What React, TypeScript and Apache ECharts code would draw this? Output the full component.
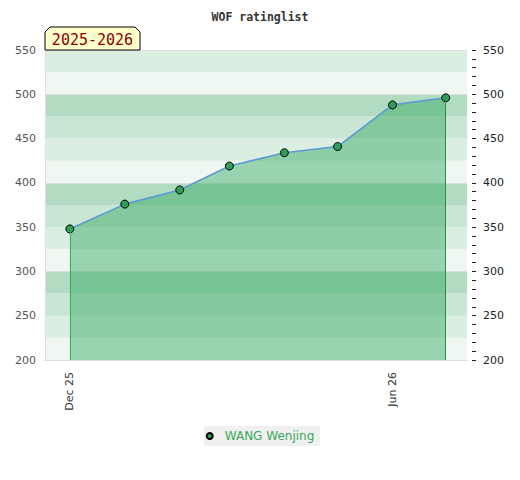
import React, { useEffect, useRef } from "react";
import * as echarts from "echarts";

const months = ["2025-12-01", "2026-01-01", "2026-02-01", "2026-03-01", "2026-04-01", "2026-05-01", "2026-06-01", "2026-07-01"];
const ratings = [348, 376, 392, 419, 434, 441, 488, 496];
const playerName = "WANG Wenjing";
const seasonLabel = "2025-2026";
const titleText = "WOF ratinglist";
const xLabelDates = ["2025-12-01", "2026-06-01"];
const xRange = ["2025-11-17", "2026-07-13"];
const yRange = [200, 550];
const bandColors = ["#eff7f2", "#dbeee2", "#c8e6d3", "#b2dcc1"];

const MONTH_NAMES = ["Jan", "Feb", "Mar", "Apr", "May", "Jun", "Jul", "Aug", "Sep", "Oct", "Nov", "Dec"];

function ts(s: string): number {
  const [y, m, d] = s.split("-").map(Number);
  return new Date(y, m - 1, d).getTime();
}

export default function App() {
  const ref = useRef<HTMLDivElement>(null);

  useEffect(() => {
    document.body.style.margin = "0";
    if (!ref.current) return;
    const chart = echarts.init(ref.current, null, { renderer: "svg" });
    const data = months.map((m, i) => [ts(m), ratings[i]]);
    const first = data[0];
    const last = data[data.length - 1];

    chart.setOption({
      animation: false,
      title: {
        text: titleText,
        left: "center",
        top: 6,
        textStyle: { fontFamily: "DejaVu Sans Mono", fontWeight: "bold", fontSize: 11.5, color: "#333" },
      },
      grid: { left: 45, right: 53, top: 50, bottom: 120 },
      legend: {
        bottom: 34,
        left: "center",
        backgroundColor: "#f0f0f0",
        padding: [4, 6, 4, 2],
        itemWidth: 20,
        itemHeight: 6,
        icon: "circle",
        textStyle: { color: "#3aa85c", fontSize: 12, fontFamily: "DejaVu Sans" },
        data: [playerName],
      },
      xAxis: {
        type: "value",
        min: ts(xRange[0]),
        max: ts(xRange[1]),
        axisLine: { show: true, lineStyle: { color: "#dddddd", width: 1 } },
        axisTick: { show: false },
        splitLine: { show: false },
        axisLabel: {
          customValues: xLabelDates.map(ts),
          rotate: 90,
          margin: 12,
          color: "#333",
          fontSize: 11,
          fontFamily: "DejaVu Sans",
          formatter: (v: number) => {
            const d = new Date(v);
            return MONTH_NAMES[d.getMonth()] + " " + String(d.getFullYear() % 100).padStart(2, "0");
          },
        },
      },
      yAxis: [
        {
          type: "value",
          position: "left",
          min: yRange[0],
          max: yRange[1],
          interval: 25,
          axisLine: { show: true, lineStyle: { color: "#dddddd", width: 1 } },
          axisTick: { show: false },
          splitLine: { show: false },
          splitArea: { show: true, areaStyle: { color: bandColors } },
          axisLabel: {
            margin: 9,
            color: "#555",
            fontSize: 11,
            fontFamily: "DejaVu Sans",
            formatter: (v: number) => (v % 50 === 0 ? String(v) : ""),
          },
        },
        {
          type: "value",
          position: "right",
          offset: 5,
          min: yRange[0],
          max: yRange[1],
          interval: 50,
          axisLine: { show: false },
          axisTick: { show: true, length: 4, lineStyle: { color: "#222" } },
          minorTick: { show: true, splitNumber: 5, length: 4, lineStyle: { color: "#222" } },
          splitLine: { show: false },
          axisLabel: { margin: 11, color: "#222", fontSize: 11, fontFamily: "DejaVu Sans" },
        },
        {
          type: "value",
          position: "left",
          min: yRange[0],
          max: yRange[1],
          interval: 100,
          axisLine: { show: false },
          axisTick: { show: false },
          axisLabel: { show: false },
          splitLine: { show: true, lineStyle: { color: "#dddddd", width: 1 } },
        },
      ],
      series: [
        {
          name: playerName,
          type: "line",
          data,
          symbol: "circle",
          symbolSize: 8,
          itemStyle: { color: "#2e9e5a", borderColor: "#000", borderWidth: 1 },
          lineStyle: { color: "#5b9bd5", width: 1.6 },
          areaStyle: { color: "rgba(49,166,93,0.45)", opacity: 1 },
          z: 3,
          markLine: {
            silent: true,
            symbol: "none",
            label: { show: false },
            data: [
              [
                { coord: [first[0], first[1]], lineStyle: { color: "#33b35a", width: 1, type: "solid" } },
                { coord: [first[0], yRange[0]] },
              ],
              [
                { coord: [last[0], last[1]], lineStyle: { color: "#2e8b4e", width: 1, type: "solid" } },
                { coord: [last[0], yRange[0]] },
              ],
            ],
          },
        },
      ],
      graphic: [
        {
          type: "polygon",
          shape: { points: [[45, 50], [45, 32], [50, 27], [135, 27], [140, 32], [140, 50]] },
          style: { fill: "#ffffcc", stroke: "#000", lineWidth: 1 },
          z: 10,
        },
        {
          type: "text",
          x: 92.5,
          y: 39.5,
          style: {
            text: seasonLabel,
            fill: "#8b0000",
            font: "15px 'DejaVu Sans Mono'",
            align: "center",
            verticalAlign: "middle",
          },
          z: 11,
        },
      ],
    });

    return () => chart.dispose();
  }, []);

  return <div ref={ref} style={{ width: 520, height: 480 }} />;
}
